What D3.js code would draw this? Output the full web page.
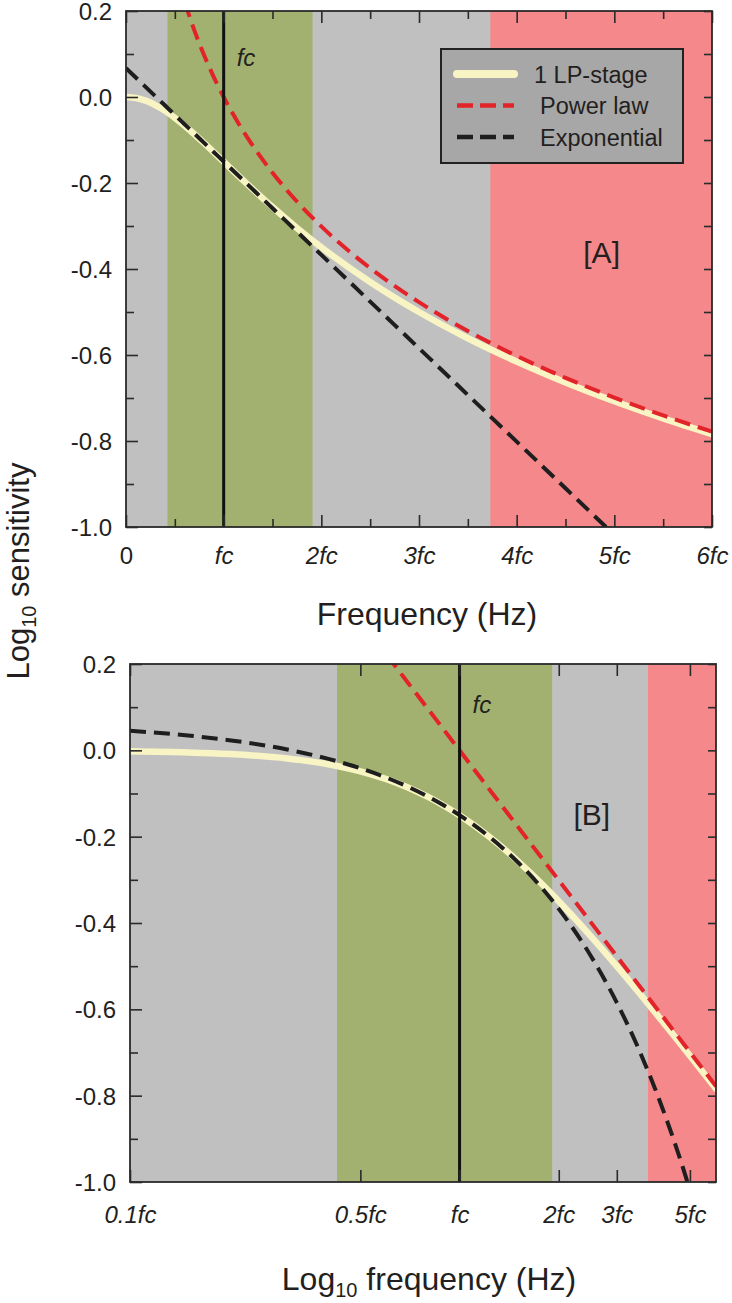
<!DOCTYPE html>
<html>
<head>
<meta charset="utf-8">
<script src="https://cdn.jsdelivr.net/npm/d3@7"></script>
<style>
  html, body { margin: 0; padding: 0; background: #fff; }
  svg { display: block; }
  text { font-family: "Liberation Sans", Arial, Helvetica, sans-serif; fill: #231f20; }
</style>
</head>
<body>
<svg id="chart" width="732" height="1303"></svg>
<script>
// ---- data (frequency in units of fc, values = log10 sensitivity) ----
const freq        = [0, 0.1, 0.15, 0.2, 0.3, 0.4, 0.5, 0.6, 0.7, 0.8, 0.9, 1, 1.25, 1.5, 1.75, 2, 2.5, 3, 3.5, 4, 4.5, 5, 5.5, 6];
const lpStage     = [0, -0.0022, -0.0048, -0.0085, -0.0187, -0.0322, -0.0485, -0.0668, -0.0866, -0.1074, -0.1288, -0.1505, -0.2043, -0.2559, -0.3044, -0.3495, -0.4302, -0.5, -0.5611, -0.6152, -0.6637, -0.7075, -0.7474, -0.7841];
const powerLaw    = [null, null, null, null, null, null, null, 0.2218, 0.1549, 0.0969, 0.0458, 0, -0.0969, -0.1761, -0.2430, -0.3010, -0.3979, -0.4771, -0.5441, -0.6021, -0.6532, -0.6990, -0.7404, -0.7782];
const exponential = [0.067, 0.0453, 0.0344, 0.0236, 0.0019, -0.0198, -0.0416, -0.0633, -0.0850, -0.1067, -0.1284, -0.1501, -0.2044, -0.2587, -0.3129, -0.3672, -0.4758, -0.5843, -0.6929, -0.8014, -0.9100, -1.0185, -1.1271, -1.2356];

const seriesNames = ["1 LP-stage", "Power law", "Exponential"];

const greenBand = [0.425, 1.91];
const redBand   = [3.73, 6];
const fcValue   = 1;

const yMajorTicks = [0.2, 0.0, -0.2, -0.4, -0.6, -0.8, -1.0];
const yMinorTicks = [0.1, -0.1, -0.3, -0.5, -0.7, -0.9];

const xMajorTicksA  = [0, 1, 2, 3, 4, 5, 6];
const xTickLabelsA  = ["0", "fc", "2fc", "3fc", "4fc", "5fc", "6fc"];
const xMinorTicksA  = [0.5, 1.5, 2.5, 3.5, 4.5, 5.5];

const xMajorTicksB  = [0.1, 0.5, 1, 2, 3, 5];
const xTickLabelsB  = ["0.1fc", "0.5fc", "fc", "2fc", "3fc", "5fc"];

// ---- styles ----
const C = {
  bg: "#c0c0c0", green: "#a2b16f", red: "#f4888a",
  lp: "#f8f4c4", pow: "#e3232a", exp: "#1e1e1e",
  frame: "#2a2a2a", legend: "#a7a7a7"
};
const TICK_FONT = 24;

const svg = d3.select("#chart");
const rows = freq.map((f, i) => ({ f, lp: lpStage[i], pw: powerLaw[i], ex: exponential[i] }));

function panel(opts) {
  const { id, x, y, xMajor, xLabels, xMinor, labelPad, panelLabel, panelLabelY, fcLabelY, isLog } = opts;
  const [x0, x1] = x.range();
  const [y1, y0] = y.range();
  const g = svg.append("g");

  g.append("clipPath").attr("id", "clip" + id)
    .append("rect").attr("x", x0).attr("y", y0).attr("width", x1 - x0).attr("height", y1 - y0);

  const plot = g.append("g").attr("clip-path", `url(#clip${id})`);
  plot.append("rect").attr("x", x0).attr("y", y0).attr("width", x1 - x0).attr("height", y1 - y0).attr("fill", C.bg);
  plot.append("rect").attr("x", x(greenBand[0])).attr("y", y0)
    .attr("width", x(greenBand[1]) - x(greenBand[0])).attr("height", y1 - y0).attr("fill", C.green);
  plot.append("rect").attr("x", x(redBand[0])).attr("y", y0)
    .attr("width", x(redBand[1]) - x(redBand[0])).attr("height", y1 - y0).attr("fill", C.red);

  const data = isLog ? rows.filter(d => d.f > 0) : rows;
  const mk = key => d3.line().defined(d => d[key] !== null)
    .x(d => x(d.f)).y(d => y(d[key])).curve(d3.curveMonotoneX);

  plot.append("path").datum(data).attr("d", mk("lp")).attr("fill", "none")
    .attr("stroke", C.lp).attr("stroke-width", 6.5).attr("stroke-linecap", "round");
  plot.append("path").datum(data).attr("d", mk("pw")).attr("fill", "none")
    .attr("stroke", C.pow).attr("stroke-width", 4).attr("stroke-dasharray", "16,8");
  plot.append("path").datum(data).attr("d", mk("ex")).attr("fill", "none")
    .attr("stroke", C.exp).attr("stroke-width", 4).attr("stroke-dasharray", "16,8");

  // fc vertical line
  plot.append("line").attr("x1", x(fcValue)).attr("x2", x(fcValue))
    .attr("y1", y0).attr("y2", y1).attr("stroke", "#111").attr("stroke-width", 3);

  // fc label
  g.append("text").attr("x", x(fcValue) + 13).attr("y", y(fcLabelY))
    .attr("font-size", 24).attr("font-style", "italic").text("fc");

  // panel label
  g.append("text").attr("x", x(panelLabel.x)).attr("y", y(panelLabelY))
    .attr("text-anchor", "middle").attr("font-size", 30).text(panelLabel.text);

  // axes
  const styleAxis = sel => {
    sel.select(".domain").remove();
    sel.selectAll(".tick line").attr("stroke", C.frame).attr("stroke-width", 1.6);
  };
  const labelMap = new Map(xMajor.map((v, i) => [v, xLabels[i]]));

  const bottom = g.append("g").attr("transform", `translate(0,${y1})`)
    .call(d3.axisBottom(x).tickValues(xMajor).tickSize(-12).tickPadding(labelPad)
      .tickFormat(d => labelMap.get(d)));
  styleAxis(bottom);
  bottom.selectAll("text").attr("font-size", TICK_FONT)
    .attr("font-family", '"Liberation Sans", Arial, sans-serif')
    .attr("fill", "#231f20")
    .style("font-style", d => d === 0 ? "normal" : "italic");

  const top = g.append("g").attr("transform", `translate(0,${y0})`)
    .call(d3.axisTop(x).tickValues(xMajor).tickSize(-12).tickFormat(""));
  styleAxis(top);

  if (xMinor.length) {
    const bMin = g.append("g").attr("transform", `translate(0,${y1})`)
      .call(d3.axisBottom(x).tickValues(xMinor).tickSize(-8).tickFormat(""));
    styleAxis(bMin);
    const tMin = g.append("g").attr("transform", `translate(0,${y0})`)
      .call(d3.axisTop(x).tickValues(xMinor).tickSize(-8).tickFormat(""));
    styleAxis(tMin);
  }

  const left = g.append("g").attr("transform", `translate(${x0},0)`)
    .call(d3.axisLeft(y).tickValues(yMajorTicks).tickSize(-12).tickPadding(14)
      .tickFormat(d => d.toFixed(1)));
  styleAxis(left);
  left.selectAll("text").attr("font-size", TICK_FONT)
    .attr("font-family", '"Liberation Sans", Arial, sans-serif')
    .attr("fill", "#231f20").attr("dy", "0.36em");

  const leftMin = g.append("g").attr("transform", `translate(${x0},0)`)
    .call(d3.axisLeft(y).tickValues(yMinorTicks).tickSize(-8).tickFormat(""));
  styleAxis(leftMin);

  const right = g.append("g").attr("transform", `translate(${x1},0)`)
    .call(d3.axisRight(y).tickValues(yMajorTicks.concat(yMinorTicks)).tickSize(-8).tickFormat(""));
  styleAxis(right);

  // frame
  g.append("rect").attr("x", x0).attr("y", y0).attr("width", x1 - x0).attr("height", y1 - y0)
    .attr("fill", "none").attr("stroke", C.frame).attr("stroke-width", 1.8);

  return g;
}

// Panel A (linear frequency)
const xA = d3.scaleLinear().domain([0, 6]).range([126, 712]);
const yA = d3.scaleLinear().domain([-1.0, 0.2]).range([527, 11]);
const gA = panel({
  id: "A", x: xA, y: yA, xMajor: xMajorTicksA, xLabels: xTickLabelsA, xMinor: xMinorTicksA,
  labelPad: 20, panelLabel: { x: 4.87, text: "[A]" }, panelLabelY: -0.387, fcLabelY: 0.071, isLog: false
});

// Panel B (log frequency)
const xB = d3.scaleLog().domain([0.1, 6]).range([130, 716]);
const yB = d3.scaleLinear().domain([-1.0, 0.2]).range([1182, 664]);
panel({
  id: "B", x: xB, y: yB, xMajor: xMajorTicksB, xLabels: xTickLabelsB, xMinor: [],
  labelPad: 24, panelLabel: { x: 2.52, text: "[B]" }, panelLabelY: -0.172, fcLabelY: 0.086, isLog: true
});

// Legend (panel A)
const legend = gA.append("g");
legend.append("rect").attr("x", 441).attr("y", 49).attr("width", 242).attr("height", 114)
  .attr("fill", C.legend).attr("stroke", "#222").attr("stroke-width", 2);
const legStyles = [
  { stroke: C.lp, width: 8, dash: null, cap: "round" },
  { stroke: C.pow, width: 4.5, dash: "16,7", cap: "butt" },
  { stroke: C.exp, width: 4.5, dash: "16,7", cap: "butt" }
];
const legY = d3.scalePoint().domain(seriesNames).range([74, 137]);
seriesNames.forEach((name, i) => {
  const s = legStyles[i];
  const ly = legY(name);
  legend.append("line").attr("x1", 457).attr("x2", 514).attr("y1", ly).attr("y2", ly)
    .attr("stroke", s.stroke).attr("stroke-width", s.width)
    .attr("stroke-dasharray", s.dash).attr("stroke-linecap", s.cap);
  legend.append("text").attr("x", i === 0 ? 534 : 540).attr("y", ly + 8.5)
    .attr("font-size", 23.5).text(name);
});

// Axis titles
svg.append("text").attr("x", 427).attr("y", 625).attr("text-anchor", "middle")
  .attr("font-size", 32).text("Frequency (Hz)");

const xt = svg.append("text").attr("x", 429).attr("y", 1290).attr("text-anchor", "middle")
  .attr("font-size", 32);
xt.append("tspan").text("Log");
xt.append("tspan").attr("font-size", 20).attr("dy", 7).text("10");
xt.append("tspan").attr("dy", -7).text(" frequency (Hz)");

const yt = svg.append("text").attr("transform", "translate(29,571) rotate(-90)")
  .attr("text-anchor", "middle").attr("font-size", 31);
yt.append("tspan").text("Log");
yt.append("tspan").attr("font-size", 20).attr("dy", 7).text("10");
yt.append("tspan").attr("dy", -7).text(" sensitivity");
</script>
</body>
</html>
